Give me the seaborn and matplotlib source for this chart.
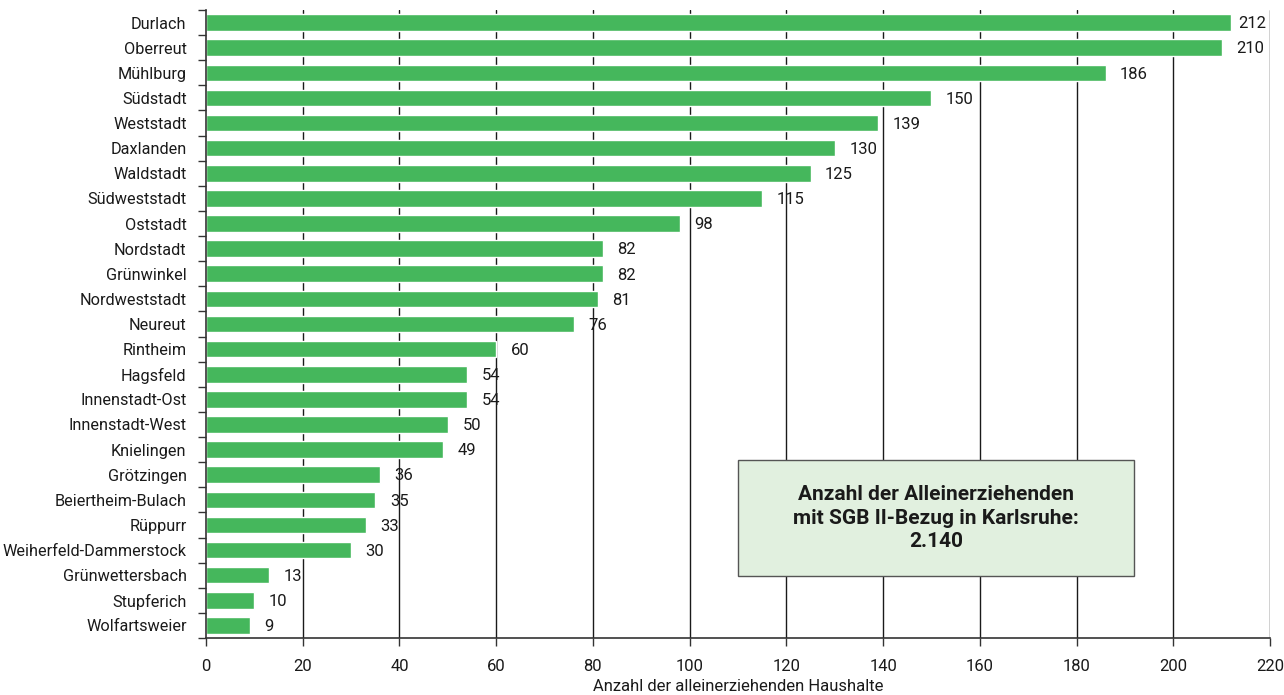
import matplotlib
matplotlib.use("Agg")
import matplotlib.pyplot as plt
import numpy as np
import pandas as pd
import seaborn as sns

districts = [
    "Durlach", "Oberreut", "Mühlburg", "Südstadt", "Weststadt", "Daxlanden",
    "Waldstadt", "Südweststadt", "Oststadt", "Nordstadt", "Grünwinkel",
    "Nordweststadt", "Neureut", "Rintheim", "Hagsfeld", "Innenstadt-Ost",
    "Innenstadt-West", "Knielingen", "Grötzingen", "Beiertheim-Bulach",
    "Rüppurr", "Weiherfeld-Dammerstock", "Grünwettersbach", "Stupferich",
    "Wolfartsweier",
]
households = [212, 210, 186, 150, 139, 130, 125, 115, 98, 82, 82, 81, 76, 60,
              54, 54, 50, 49, 36, 35, 33, 30, 13, 10, 9]
x_ticks = list(range(0, 221, 20))
total_text = "Anzahl der Alleinerziehenden\nmit SGB II-Bezug in Karlsruhe:\n2.140"
x_title = "Anzahl der alleinerziehenden Haushalte"

sns.set_theme(style="white")
plt.rcParams["font.family"] = ["Roboto", "DejaVu Sans"]

df = pd.DataFrame({"Stadtteil": districts, "Haushalte": households})

fig = plt.figure(figsize=(12.84, 6.95), dpi=100)
ax = fig.add_axes([206 / 1284, 57 / 695, (1270 - 206) / 1284, (638 - 10) / 695])

# vertical reference lines at every major tick
ax.set_axisbelow(True)
for v in x_ticks[1:]:
    ax.axvline(v, color="#1a1a1a", lw=1.0, zorder=0)

sns.barplot(data=df, x="Haushalte", y="Stadtteil", color="#45b75c",
            saturation=1, width=0.66, ax=ax, zorder=2)

xmax = x_ticks[-1]
for i, v in enumerate(households):
    if v + 10 > xmax:
        # keep labels of the longest bars inside the plot area
        ax.text(xmax - 0.8, i + 0.05, str(v), va="center", ha="right",
                fontsize=12, color="#1a1a1a", zorder=3)
    else:
        ax.text(v + 3.0, i + 0.05, str(v), va="center", ha="left",
                fontsize=12, color="#1a1a1a", zorder=3)

ax.set_xlim(0, xmax)
ax.set_ylim(len(districts) - 0.5, -0.5)
ax.set_xticks(x_ticks)
ax.set_xlabel(x_title, fontsize=12, color="#1a1a1a", labelpad=4)
ax.set_ylabel("")

ax.tick_params(axis="x", which="major", length=6, width=1, color="#333333",
               labelsize=12, labelcolor="#1a1a1a", direction="out", pad=9,
               bottom=True)
ax.tick_params(axis="y", which="major", length=0, labelsize=11.7,
               labelcolor="#1a1a1a", pad=14)
ax.set_yticks(np.arange(len(districts) + 1) - 0.5, minor=True)
ax.tick_params(axis="y", which="minor", length=6, width=1, color="#333333",
               direction="out", left=True)

for s in ["top", "right"]:
    ax.spines[s].set_visible(False)
for s in ["left", "bottom"]:
    ax.spines[s].set_color("#333333")
    ax.spines[s].set_linewidth(1.2)

# summary box with the city-wide total
box_x0 = (738 - 206) / (1270 - 206)
box_x1 = (1134 - 206) / (1270 - 206)
box_y0 = (638 - 576) / (638 - 10)
box_y1 = (638 - 460) / (638 - 10)
rect = plt.Rectangle((box_x0, box_y0), box_x1 - box_x0, box_y1 - box_y0,
                     transform=ax.transAxes, facecolor="#e1f0df",
                     edgecolor="#555555", lw=1.0, zorder=4)
ax.add_patch(rect)
ax.text((box_x0 + box_x1) / 2, (box_y0 + box_y1) / 2, total_text,
        transform=ax.transAxes, ha="center", va="center", fontsize=15,
        fontweight="bold", color="#1a1a1a", linespacing=1.3, zorder=5)

fig.savefig("out.png", dpi=100)
